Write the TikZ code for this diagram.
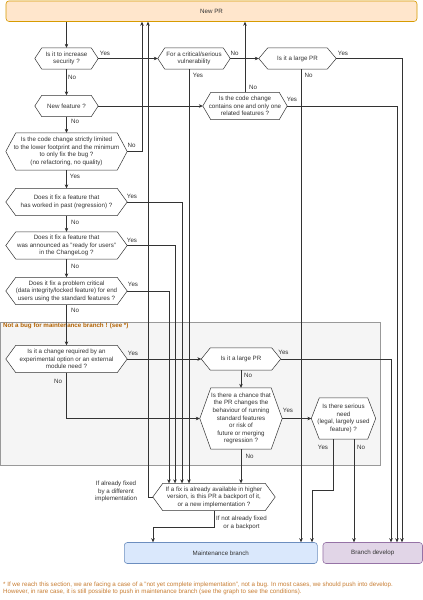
\documentclass[tikz,border=0pt]{standalone}
\usepackage{fontspec}
\setmainfont{Liberation Sans}
\usetikzlibrary{arrows.meta,calc}
\pgfdeclarelayer{back}
\pgfdeclarelayer{mid}
\pgfsetlayers{back,mid,main}
\definecolor{linec}{HTML}{333333}
\definecolor{txtc}{HTML}{333333}
\definecolor{prfill}{HTML}{FFE6CC}
\definecolor{prdraw}{HTML}{D79B00}
\definecolor{mfill}{HTML}{DAE8FC}
\definecolor{mdraw}{HTML}{6C8EBF}
\definecolor{dfill}{HTML}{E1D5E7}
\definecolor{ddraw}{HTML}{9673A6}
\definecolor{gfill}{HTML}{F5F5F5}
\definecolor{gdraw}{HTML}{999999}
\definecolor{titc}{RGB}{180,100,4}
\definecolor{footc}{RGB}{200,125,50}
\newcommand{\fsz}{\fontsize{6.2}{7.6}\selectfont}
\tikzset{
  hexbox/.style={inner sep=0pt, align=center, text=txtc, font=\fsz},
  hexline/.style={draw=linec, fill=white, line width=0.5pt},
  termbox/.style={rounded corners=3pt, line width=0.6pt, inner sep=0pt, font=\fsz, text=txtc},
  conn/.style={draw=linec, line width=0.5pt, -{Stealth[length=4pt,width=3.6pt]}},
  lbl/.style={inner sep=0pt, font=\fsz, text=txtc, align=center},
}
\newcommand{\hexnode}[7]{%
  \node[hexbox, minimum width=#4pt, minimum height=#5pt] (#1) at (#2,#3) {#7};
  \begin{pgfonlayer}{mid}
    \path[hexline] (#1.west) -- ([xshift=#6pt]#1.north west) -- ([xshift=-#6pt]#1.north east)
      -- (#1.east) -- ([xshift=-#6pt]#1.south east) -- ([xshift=#6pt]#1.south west) -- cycle;
  \end{pgfonlayer}}
\begin{document}
\begin{tikzpicture}[x=1pt,y=-1pt]
\useasboundingbox (0,0) rectangle (423,600);

% group box
\begin{pgfonlayer}{back}
\fill[white] (0,0) rectangle (423,600);
\node[draw=gdraw, fill=gfill, line width=0.6pt, minimum width=380pt, minimum height=143pt, anchor=north west, inner sep=0pt] (grp) at (0,322) {};
\end{pgfonlayer}
\node[anchor=west, inner sep=0pt, font=\fsz\bfseries, text=titc] (grptitle) at (3,326) {Not a bug for maintenance branch ! (see *)};

% terminals
\node[termbox, draw=prdraw, fill=prfill, minimum width=411pt, minimum height=20.5pt] (newpr) at (211.5,11.2) {New PR};
\node[termbox, draw=mdraw, fill=mfill, minimum width=193pt, minimum height=21pt] (maint) at (220.8,553) {Maintenance branch};
\node[termbox, draw=ddraw, fill=dfill, minimum width=99.5pt, minimum height=21pt] (develop) at (372.7,553) {Branch develop};

% decisions
\hexnode{sec}{66.5}{58.5}{63}{21}{7}{Is it to increase\\security ?}
\hexnode{crit}{194}{58.5}{72}{21}{7}{For a critical/serious\\vulnerability}
\hexnode{large1}{297.5}{58.5}{77}{21}{9}{Is it a large PR}
\hexnode{newf}{66.5}{106}{63}{21}{7}{New feature ?}
\hexnode{onefeat}{245}{106}{84}{27}{8}{Is the code change\\contains one and only one\\related features ?}
\hexnode{strict}{66.5}{151.5}{121}{37}{10}{Is the code change strictly limited\\to the lower footprint and the minimum\\to only fix the bug ?\\(no refactoring, no quality)}
\hexnode{regr}{66.5}{202}{121}{27}{10}{Does it fix a feature that\\has worked in past (regression) ?}
\hexnode{announce}{66.5}{245.5}{121}{27}{10}{Does it fix a feature that\\was announced as "ready for users"\\in the ChangeLog ?}
\hexnode{critprob}{66.5}{291}{121}{27}{10}{Does it fix a problem critical\\(data integrity/locked feature) for end\\users using the standard features ?}
\hexnode{exper}{66.5}{359}{121}{27}{10}{Is it a change required by an\\experimental option or an external\\module need ?}
\hexnode{large2}{241}{359}{79}{22}{9}{Is it a large PR}
\hexnode{chance}{241}{418.5}{82}{61}{11}{Is there a chance that\\the PR changes the\\behaviour of running\\standard features\\or risk of\\future or merging\\regression ?}
\hexnode{serious}{343.5}{418.5}{64}{41}{8}{Is there serious\\need\\(legal, largely used\\feature) ?}
\hexnode{backport}{214}{497}{122}{27}{10}{If a fix is already available in higher\\version, is this PR a backport of it,\\or a new implementation ?}

% connectors
\draw[conn] (newpr.south -| sec.north) -- (sec.north);
\draw[conn] (sec.east) -- (crit.west);
\draw[conn] (crit.east) -- (large1.west);
\draw[conn] (large1.east) -| (402,0 |- develop.north);
\draw[conn] (301,0 |- large1.south) -- (301,0 |- maint.north);
\draw[conn] (189,0 |- crit.south) -- (189,0 |- backport.north);
\draw[conn] (sec.south) -- (newf.north);
\draw[conn] (newf.east) -- (onefeat.west);
\draw[conn] (onefeat.north) -- (onefeat.north |- newpr.south);
\draw[conn] (onefeat.east) -| (397,0 |- develop.north);
\draw[conn] (newf.south) -- (strict.north);
\draw[conn] (strict.east) -| (142,0 |- newpr.south);
\draw[conn] (strict.south) -- (regr.north);
\draw[conn] (regr.east) -| (182,0 |- backport.north);
\draw[conn] (regr.south) -- (announce.north);
\draw[conn] (announce.east) -| (175,0 |- backport.north);
\draw[conn] (announce.south) -- (critprob.north);
\draw[conn] (critprob.east) -| (169,0 |- backport.north);
\draw[conn] (critprob.south) -- (exper.north);
\draw[conn] (exper.east) -- (large2.west);
\draw[conn] (large2.east) -| (391,0 |- develop.north);
\draw[conn] (large2.south) -- (chance.north);
\draw[conn] (exper.south) |- (chance.west);
\draw[conn] (chance.east) -- (serious.west);
\draw[conn] (chance.south) -- (chance.south |- backport.north);
\draw[conn] (333,0 |- serious.south) -- (333,490) -| (312,0 |- maint.north);
\draw[conn] (354,0 |- serious.south) -- (354,0 |- develop.north);
\draw[conn] (backport.west) -| (148,0 |- newpr.south);
\draw[conn] (backport.south) -- (214,527) -| (153,0 |- maint.north);

% edge labels
\node[lbl] (l1) at (105,53) {Yes};
\node[lbl] (l2) at (234.5,53) {No};
\node[lbl] (l3) at (343,53) {Yes};
\node[lbl] (l4) at (198,75) {Yes};
\node[lbl] (l5) at (308.5,75) {No};
\node[lbl] (l6) at (72,77) {No};
\node[lbl] (l7) at (253,87) {No};
\node[lbl] (l8) at (292,99) {Yes};
\node[lbl] (l9) at (75,121) {No};
\node[lbl] (l10) at (131.5,145) {No};
\node[lbl] (l11) at (75,176.5) {Yes};
\node[lbl] (l12) at (132,196.5) {Yes};
\node[lbl] (l13) at (75,222) {No};
\node[lbl] (l14) at (132,240) {Yes};
\node[lbl] (l15) at (75,266.5) {No};
\node[lbl] (l16) at (133,284.5) {Yes};
\node[lbl] (l17) at (75,310) {No};
\node[lbl] (l18) at (133,353.5) {Yes};
\node[lbl] (l19) at (283.5,352.5) {Yes};
\node[lbl] (l20) at (248,375) {No};
\node[lbl] (l21) at (58,381) {No};
\node[lbl] (l22) at (288,410) {Yes};
\node[lbl] (l23) at (249.5,456.5) {No};
\node[lbl] (l24) at (323,447.5) {Yes};
\node[lbl] (l25) at (361,447.5) {No};
\node[lbl] (l26) at (116,491.5) {If already fixed\\by a different\\implementation};
\node[lbl] (l27) at (241.5,523) {If not already fixed\\or a backport};

% footnote
\node[anchor=north west, inner sep=0pt, font=\fsz, text=footc, align=left] (foot) at (3,581.5) {* If we reach this section, we are facing a case of a "not yet complete implementation", not a bug. In most cases, we should push into develop.\\However, in rare case, it is still possible to push in maintenance branch (see the graph to see the conditions).};
\end{tikzpicture}
\end{document}
